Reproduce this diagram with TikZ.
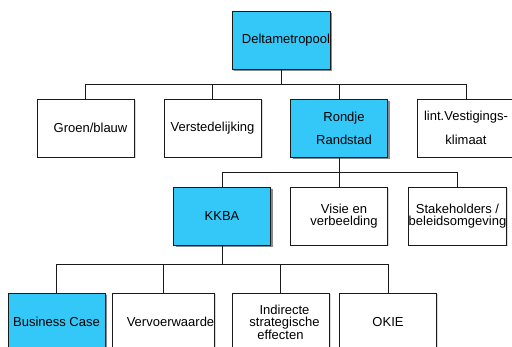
\documentclass[tikz,border=0pt]{standalone}
\usepackage{fontspec}
\setmainfont{Liberation Sans}
\usetikzlibrary{shadows}
\tikzset{
    lab/.style={
        font=\fontsize{13}{12.5}\selectfont
    }
}

\begin{document}
\begin{tikzpicture}[x=1pt, y=-1pt]
    \def\boxw{97pt}
    \def\boxh{58pt}

    \definecolor{org-blue}{HTML}{33C8F8}
    \definecolor{org-shadow}{HTML}{8A8A8A}
    \definecolor{org-line}{HTML}{1A1A1A}

    \tikzset{
      orgbox/.style={
        draw=org-line,
        line width=0.7pt,
        fill=white,
        minimum width=\boxw,
        minimum height=\boxh,
        inner sep=0pt,
        align=center,
        lab,
        drop shadow={shadow xshift=1.5pt, shadow yshift=-1.5pt, fill=gray!30, opacity=1}
      },
      keybox/.style={
        orgbox,
        fill=org-blue,
        drop shadow={shadow xshift=2pt, shadow yshift=-2pt, fill=org-shadow, opacity=1}
      },
      tree/.style={
        draw=org-line,
        line width=0.7pt
      }
    }

    \useasboundingbox (0,0) rectangle (512,347);
    \clip (0,0) rectangle (512,347);

    \node[keybox] (delta) at (281,40.5) {\hspace*{10pt}Deltametropool};

    \node[orgbox] (groen) at (85.5,128) {\hspace*{10pt}Groen/blauw};
    \node[orgbox] (verst) at (212.5,128) {Verstedelijking};
    \node[keybox] (rondje) at (339,128) {\hspace*{10pt}Rondje\\[10.5pt]\hspace*{10pt}Randstad};
    \node[orgbox, minimum width=98pt] (lint) at (466,128) {lint.Vestigings-\\[11pt]klimaat};

    \node[keybox] (kkba) at (222,216) {KKBA};
    \node[orgbox] (visie) at (339,216) {\hspace*{10pt}Visie en\\\hspace*{10pt}verbeelding};
    \node[orgbox] (stake) at (457.5,216) {Stakeholders /\\beleidsomgeving};

    \node[keybox] (busi) at (56.5,322) {Business Case};
    \node[orgbox] (verv) at (163.5,322) {\hspace*{14pt}Vervoerwaarde};
    \node[orgbox] (indir) at (280.5,322) {\hspace*{8pt}Indirecte\\\hspace*{8pt}strategische\\effecten};
    \node[orgbox] (okie) at (388,322) {OKIE};

    % buses
    \coordinate (bus1) at (281,84);
    \coordinate (bus2) at (339,172);
    \coordinate (bus3) at (222,264);

    \draw[tree] (delta) -- (bus1);
    \foreach \n in {groen,verst,rondje,lint}
      \draw[tree] (bus1) -| (\n.north);

    \draw[tree] (rondje) -- (bus2);
    \foreach \n in {kkba,visie,stake}
      \draw[tree] (bus2) -| (\n.north);

    \draw[tree] (kkba) -- (bus3);
    \foreach \n in {busi,verv,indir,okie}
      \draw[tree] (bus3) -| (\n.north);
  \end{tikzpicture}
\end{document}
